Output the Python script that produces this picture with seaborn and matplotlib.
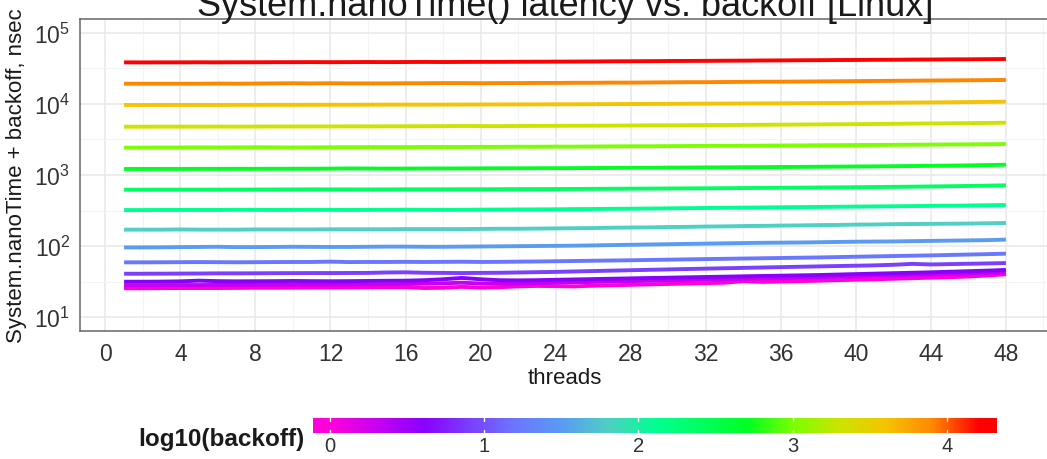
import numpy as np
import pandas as pd
import matplotlib
matplotlib.use("Agg")
import matplotlib.pyplot as plt
import seaborn as sns
from matplotlib.colors import LinearSegmentedColormap, Normalize
from matplotlib.ticker import FixedLocator, NullFormatter

# ---------------- data ----------------
threads = list(range(1, 49))
backoff = [1, 2, 4, 8, 16, 32, 64, 128, 256, 512, 1024, 2048, 4096, 8192, 16384]

lat_b16384 = [38600, 38500, 38600, 38600, 38700, 38600, 38700, 38700, 38800, 38800,
              38900, 38800, 38900, 39000, 38900, 39000, 39100, 39000, 39100, 39200,
              39200, 39300, 39400, 39500, 39600, 39700, 39900, 40000, 40100, 40300,
              40400, 40500, 40700, 40800, 41000, 41100, 41300, 41400, 41600, 41700,
              41900, 42000, 42200, 42300, 42500, 42600, 42800, 43000]
lat_b8192 = [19300, 19300, 19300, 19300, 19300, 19400, 19300, 19400, 19500, 19600,
             19500, 19600, 19500, 19500, 19500, 19600, 19600, 19700, 19700, 19600,
             19700, 19700, 19800, 19800, 19900, 19900, 20000, 20000, 20100, 20200,
             20300, 20300, 20400, 20500, 20600, 20600, 20700, 20800, 20900, 21000,
             21100, 21200, 21300, 21400, 21500, 21600, 21700, 21800]
lat_b4096 = [9700, 9690, 9700, 9700, 9710, 9700, 9720, 9720, 9740, 9730,
             9750, 9760, 9760, 9780, 9790, 9800, 9790, 9810, 9830, 9840,
             9860, 9870, 9880, 9900, 9920, 9940, 9970, 10000, 10020, 10050,
             10080, 10100, 10130, 10160, 10190, 10220, 10260, 10290, 10320, 10360,
             10400, 10440, 10480, 10530, 10580, 10640, 10700, 10800]
lat_b2048 = [4790, 4790, 4800, 4800, 4800, 4810, 4800, 4810, 4820, 4820,
             4830, 4830, 4840, 4840, 4850, 4860, 4870, 4880, 4900, 4890,
             4880, 4900, 4920, 4930, 4940, 4950, 4960, 4980, 5000, 5010,
             5030, 5050, 5060, 5080, 5100, 5120, 5140, 5160, 5180, 5200,
             5230, 5260, 5290, 5320, 5350, 5380, 5410, 5450]
lat_b1024 = [2430, 2430, 2440, 2440, 2450, 2440, 2450, 2460, 2450, 2440,
             2450, 2460, 2460, 2470, 2470, 2470, 2480, 2480, 2480, 2490,
             2490, 2500, 2500, 2510, 2510, 2520, 2530, 2540, 2540, 2550,
             2560, 2570, 2580, 2580, 2590, 2600, 2610, 2620, 2630, 2640,
             2650, 2660, 2670, 2680, 2690, 2700, 2710, 2730]
lat_b512 = [1216, 1216, 1218, 1218, 1220, 1220, 1222, 1222, 1224, 1224,
            1226, 1230, 1236, 1234, 1230, 1232, 1234, 1236, 1238, 1240,
            1242, 1244, 1246, 1248, 1250, 1254, 1258, 1262, 1266, 1270,
            1274, 1278, 1282, 1286, 1290, 1296, 1300, 1306, 1312, 1318,
            1324, 1330, 1338, 1346, 1356, 1366, 1380, 1397]
lat_b256 = [621, 621, 622, 622, 622, 623, 623, 624, 625, 626,
            628, 627, 626, 626, 627, 628, 628, 629, 630, 630,
            631, 632, 633, 634, 636, 638, 640, 642, 644, 646,
            648, 650, 652, 655, 658, 661, 664, 667, 670, 673,
            677, 681, 685, 690, 695, 701, 708, 716]
lat_b128 = [321, 321, 322, 322, 322, 322, 324, 323, 322, 323,
            324, 323, 322, 323, 324, 325, 324, 323, 324, 325,
            326, 327, 328, 329, 331, 332, 334, 335, 337, 339,
            341, 343, 345, 347, 349, 351, 353, 355, 357, 359,
            361, 363, 365, 367, 369, 372, 375, 378]
lat_b64 = [170, 170, 170, 171, 170, 170, 170, 171, 171, 171,
           171, 172, 172, 172, 172, 173, 173, 173, 173, 174,
           175, 175, 176, 177, 178, 179, 181, 182, 183, 185,
           186, 188, 189, 191, 192, 194, 195, 197, 198, 200,
           201, 203, 204, 205, 206, 207, 209, 211]
lat_b32 = [95.5, 95.5, 95.8, 96.5, 97, 97.5, 96.5, 96.5, 97, 97.5,
           97.2, 97, 97, 97.5, 98, 98, 97.5, 97.5, 98, 98.5,
           99, 99.5, 100, 100.5, 101, 102, 103, 104, 105, 106,
           107, 108, 109, 110, 111, 111.5, 112, 113, 114, 115,
           115.5, 116, 117, 118, 119, 120, 121, 123]
lat_b16 = [58.9, 58.9, 59, 59.2, 59.4, 59.2, 59, 59.2, 59.4, 59.5,
           59.6, 60.2, 59.4, 59.6, 59.6, 59.8, 59.6, 59.8, 60, 59.6,
           59.8, 60.2, 60.5, 61, 61.5, 62, 62.5, 63, 63.6, 64.2,
           64.8, 65.4, 66, 66.6, 67.2, 67.8, 68.4, 69, 69.8, 70.6,
           71.4, 72.2, 73, 73.8, 74.8, 75.8, 76.8, 78]
lat_b8 = [40.7, 40.7, 40.8, 40.9, 41, 41.2, 41.2, 41.3, 41.4, 41.5,
          41.6, 41.6, 41.7, 41.8, 42.4, 42.6, 42, 41.8, 41.6, 41.8,
          42, 42.4, 42.8, 43.2, 43.8, 44.4, 45, 45.6, 46.2, 46.8,
          47.4, 48, 48.6, 49.2, 49.8, 50.4, 51, 51.6, 52.2, 52.8,
          53.4, 54.4, 56, 55, 55.6, 56.2, 56.8, 57.5]
lat_b4 = [31.4, 31.4, 31.5, 31.8, 32.5, 32, 31.8, 31.9, 32, 32.2,
          32, 31.9, 32, 32.2, 32.4, 32.5, 33, 34, 35.5, 34,
          33, 32.8, 33, 33.4, 33.8, 34.2, 34.6, 35, 35.4, 35.8,
          36.2, 36.6, 37, 37.4, 37.8, 38.2, 38.6, 39, 39.6, 40.2,
          40.8, 41.4, 42, 42.6, 43.4, 44.2, 45, 46]
lat_b2 = [28, 28, 28.1, 28.2, 28.2, 28.3, 28.4, 28.4, 28.5, 28.6,
          28.7, 28.6, 28.8, 28.9, 29, 29.2, 29.4, 29.8, 30.4, 29.6,
          29.4, 29.6, 30, 30.4, 30.8, 31.2, 31.6, 32, 32.4, 32.8,
          33.2, 33.6, 34, 34.6, 35.2, 35.2, 35.6, 36.2, 36.8, 37.4,
          38, 38.6, 39.2, 39.8, 40.4, 41, 41.8, 42.6]
lat_b1 = [25.4, 25.4, 25.5, 25.6, 25.6, 25.6, 25.7, 25.8, 25.8, 25.9,
          26, 26, 26.1, 26.2, 26.3, 26.3, 25.6, 25.8, 26.6, 25.9,
          26.3, 27, 27.4, 27.2, 27, 27.6, 28, 28.4, 28.8, 29.2,
          29.6, 30, 30.4, 32, 31.2, 31.6, 32, 32.5, 33, 33.5,
          34, 34.6, 35.2, 35.8, 36.4, 37.2, 38.4, 40]

series = [lat_b1, lat_b2, lat_b4, lat_b8, lat_b16, lat_b32, lat_b64, lat_b128,
          lat_b256, lat_b512, lat_b1024, lat_b2048, lat_b4096, lat_b8192, lat_b16384]

x_ticks = [0, 4, 8, 12, 16, 20, 24, 28, 32, 36, 40, 44, 48]
y_ticks = [1e1, 1e2, 1e3, 1e4, 1e5]
y_tick_labels = ["$10^{1}$", "$10^{2}$", "$10^{3}$", "$10^{4}$", "$10^{5}$"]
cb_ticks = [0, 1, 2, 3, 4]
# colour gradient (as seen on the reference colour bar), one stop per backoff level
gradient_colours = ["#FF00DB", "#C600F2", "#8A00FF", "#7A40FF", "#6A78FF",
                    "#5A9CF2", "#4ED0C4", "#00FF92", "#00FF60", "#00FF22",
                    "#7CFF00", "#CCE400", "#F5C400", "#FF8800", "#FF0000"]

rows = []
for b, vals in zip(backoff, series):
    for t, v in zip(threads, vals):
        rows.append({"threads": t, "latency": v, "log10b": np.log10(b)})
df = pd.DataFrame(rows)

vmin, vmax = 0.0, float(np.log10(max(backoff)))
stop_pos = [(np.log10(b) - vmin) / (vmax - vmin) for b in backoff]
cmap = LinearSegmentedColormap.from_list("rainbow_rev", list(zip(stop_pos, gradient_colours)), N=512)

# ---------------- figure ----------------
sns.set_style("white")
plt.rcParams["font.family"] = ["Liberation Sans", "DejaVu Sans"]
plt.rcParams["mathtext.fontset"] = "custom"
plt.rcParams["mathtext.rm"] = "Liberation Sans"
plt.rcParams["mathtext.default"] = "regular"

W, H = 1047, 460
fig = plt.figure(figsize=(W / 100, H / 100), dpi=100)
ax = fig.add_axes([80 / W, 1 - 332 / H, 970 / W, 312 / H])

sns.lineplot(data=df, x="threads", y="latency", hue="log10b", palette=cmap,
             hue_norm=Normalize(vmin, vmax), legend=False, linewidth=2.8,
             errorbar=None, ax=ax, solid_capstyle="butt")

ax.set_yscale("log")
ax.set_ylim(10 ** 0.803, 10 ** 5.197)
ax.set_xlim(-1.35, 50.35)
ax.set_xticks(x_ticks)
ax.set_yticks(y_ticks)
ax.set_yticklabels(y_tick_labels)
ax.xaxis.set_minor_locator(FixedLocator([-2, 2, 6, 10, 14, 18, 22, 26, 30, 34, 38, 42, 46, 50]))
ax.yaxis.set_minor_locator(FixedLocator([10 ** (k + 0.5) for k in range(0, 6)]))
ax.yaxis.set_minor_formatter(NullFormatter())
ax.grid(which="major", color="#E8E8E8", linewidth=1.1)
ax.grid(which="minor", color="#F4F4F4", linewidth=0.8)
ax.set_axisbelow(True)
ax.tick_params(which="major", direction="out", length=5, width=1.3, color="#333333",
               labelsize=16.5, labelcolor="#333333", pad=3)
ax.tick_params(axis="y", which="major", pad=2)
ax.tick_params(which="minor", length=0)
for s in ax.spines.values():
    s.set_color("#666666")
    s.set_linewidth(1.1)
ax.set_xlabel("")
ax.set_ylabel("")

fig.text(565 / W, 1 - 16 / H, "System.nanoTime() latency vs. backoff [Linux]",
         ha="center", va="baseline", fontsize=26, color="#1A1A1A")
fig.text(17 / W, 1 - 176 / H, "System.nanoTime + backoff, nsec", rotation=90,
         ha="center", va="center", fontsize=16, color="#1A1A1A")
fig.text(565 / W, 1 - 378 / H, "threads", ha="center", va="center", fontsize=16,
         color="#1A1A1A")

# ---------------- colour bar ----------------
ext = (vmax - vmin) / 38
cax = fig.add_axes([313 / W, 1 - 434 / H, 684 / W, 15 / H])
grad = np.linspace(vmin - ext, vmax + ext, 400).reshape(1, -1)
cax.imshow(grad, aspect="auto", cmap=cmap, norm=Normalize(vmin, vmax),
           extent=[vmin - ext, vmax + ext, 0, 1])
cax.set_xlim(vmin - ext, vmax + ext)
cax.set_ylim(0, 1)
for t in cb_ticks:
    cax.plot([t, t], [0, 0.2], color="white", lw=1)
    cax.plot([t, t], [0.8, 1], color="white", lw=1)
cax.set_xticks(cb_ticks)
cax.set_xticklabels([str(t) for t in cb_ticks])
cax.set_yticks([])
cax.tick_params(axis="x", length=0, labelsize=14.5, labelcolor="#333333", pad=2)
for s in cax.spines.values():
    s.set_visible(False)
fig.text(305 / W, 1 - 440 / H, "log10(backoff)", ha="right", va="center",
         fontsize=17.5, fontweight="bold", color="#1A1A1A")

fig.savefig("out.png", dpi=100)
